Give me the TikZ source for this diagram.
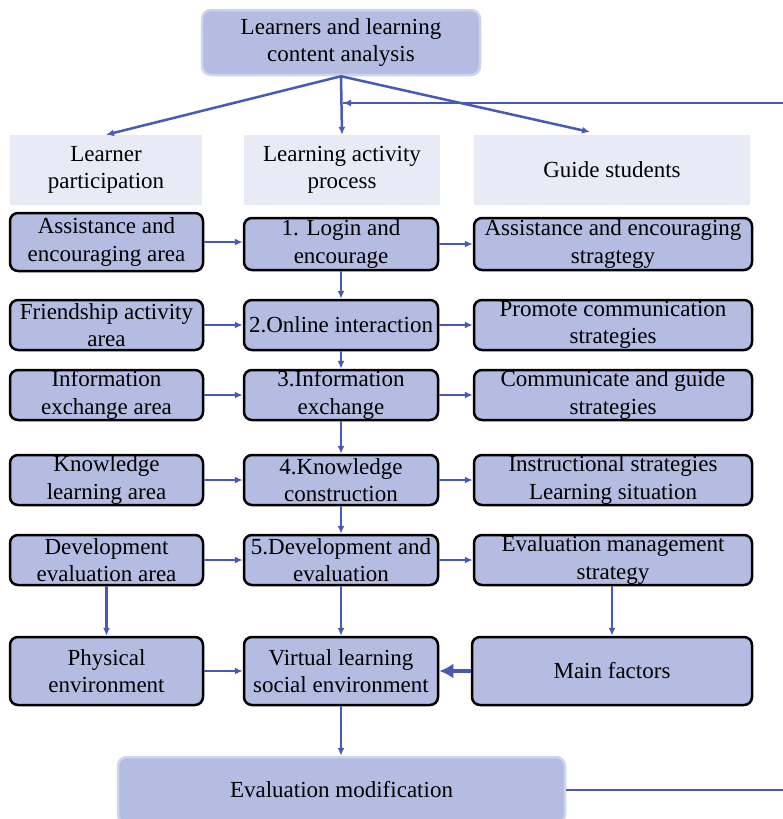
\documentclass[tikz,border=0pt]{standalone}
\usepackage{fontspec}
\setmainfont{Liberation Serif}
\usetikzlibrary{arrows.meta,calc}
\definecolor{boxfill}{RGB}{180,188,226}
\definecolor{hdrfill}{RGB}{232,235,245}
\definecolor{arrowc}{RGB}{72,90,180}
\definecolor{lightedge}{RGB}{205,212,238}
\tikzset{
  base/.style={align=center,inner sep=0pt,font=\fontsize{23}{27.5}\selectfont},
  darkbox/.style={base,draw=black,line width=2.5pt,fill=boxfill,rounded corners=8pt},
  softbox/.style={base,draw=lightedge,line width=2.5pt,fill=boxfill,rounded corners=9pt},
  hdrbox/.style={base,fill=hdrfill},
  conn/.style={draw=arrowc,line width=2.5pt,-{Latex[length=8pt,width=7pt]}},
  bigconn/.style={draw=arrowc,line width=4pt,-{Latex[length=14pt,width=15pt]}},
  plainline/.style={draw=arrowc,line width=2.5pt}
}
\begin{document}
\begin{tikzpicture}[x=1pt,y=-1pt]
\useasboundingbox (0,0) rectangle (782,819);
% top
\node[softbox,minimum width=278pt,minimum height=65pt] (top) at (341,42.5) {Learners and learning\\content analysis};
% headers
\node[hdrbox,minimum width=192pt,minimum height=70pt] (hL) at (106,170) {Learner\\participation};
\node[hdrbox,minimum width=196pt,minimum height=70pt] (hM) at (342,170) {Learning activity\\process};
\node[hdrbox,minimum width=276pt,minimum height=70pt] (hR) at (612,170) {Guide students};
% left column
\node[darkbox,minimum width=193pt,minimum height=58pt] (l1) at (106.5,242) {Assistance and\\encouraging area};
\node[darkbox,minimum width=193pt,minimum height=50pt] (l2) at (106.5,325) {Friendship activity\\area};
\node[darkbox,minimum width=193pt,minimum height=50pt] (l3) at (106.5,395) {Information\\exchange area};
\node[darkbox,minimum width=193pt,minimum height=50pt] (l4) at (106.5,480) {Knowledge\\learning area};
\node[darkbox,minimum width=193pt,minimum height=50pt] (l5) at (106.5,560) {Development\\evaluation area};
\node[darkbox,minimum width=193pt,minimum height=68pt] (l6) at (106.5,671) {Physical\\environment};
% middle column
\node[darkbox,minimum width=194pt,minimum height=52pt] (m1) at (341,244) {1. Login and\\encourage};
\node[darkbox,minimum width=194pt,minimum height=50pt] (m2) at (341,325) {2.Online interaction};
\node[darkbox,minimum width=194pt,minimum height=50pt] (m3) at (341,395) {3.Information\\exchange};
\node[darkbox,minimum width=194pt,minimum height=50pt] (m4) at (341,480) {4.Knowledge\\construction};
\node[darkbox,minimum width=194pt,minimum height=50pt] (m5) at (341,560) {5.Development and\\evaluation};
\node[darkbox,minimum width=194pt,minimum height=68pt] (m6) at (341,671) {Virtual learning\\social environment};
% right column
\node[darkbox,minimum width=278pt,minimum height=52pt] (r1) at (613,244) {Assistance and encouraging\\stragtegy};
\node[darkbox,minimum width=278pt,minimum height=50pt] (r2) at (613,325) {Promote communication\\strategies};
\node[darkbox,minimum width=278pt,minimum height=50pt] (r3) at (613,395) {Communicate and guide\\strategies};
\node[darkbox,minimum width=278pt,minimum height=50pt] (r4) at (613,480) {Instructional strategies\\Learning situation};
\node[darkbox,minimum width=278pt,minimum height=50pt] (r5) at (613,560) {Evaluation management\\strategy};
\node[darkbox,minimum width=280pt,minimum height=68pt] (r6) at (612,671) {Main factors};
% evaluation
\node[softbox,minimum width=447pt,minimum height=66pt] (ev) at (341.5,790) {Evaluation modification};
% coordinates
\coordinate (tR) at (590,132);
\coordinate (fb) at (343,103);
% connectors from top
\draw[conn] (top.south) -- (hL.north);
\draw[conn] (top.south) -- (hM.north);
\draw[conn] (top.south) -- (tR);
% feedback loop
\draw[plainline] (ev.east) -- ++(240,0) |- (fb);
\draw[conn] ($(fb)+(440,0)$) -- (fb);
% rows
\foreach \i in {1,...,5}{
  \draw[conn] (l\i.east) -- (m\i.west |- l\i.east);
  \draw[conn] (m\i.east) -- (r\i.west |- m\i.east);
}
\draw[conn] (m1) -- (m2);
\draw[conn] (m2) -- (m3);
\draw[conn] (m3) -- (m4);
\draw[conn] (m4) -- (m5);
\draw[conn] (m5) -- (m6);
\draw[conn] (l5) -- (l6);
\draw[conn] (r5.south -| 612,0) -- (r6.north);
\draw[conn] (l6.east) -- (m6.west);
\draw[bigconn] (r6.west) -- (m6.east);
\draw[conn] (m6.south) -- (ev.north -| m6.south);
\end{tikzpicture}
\end{document}
